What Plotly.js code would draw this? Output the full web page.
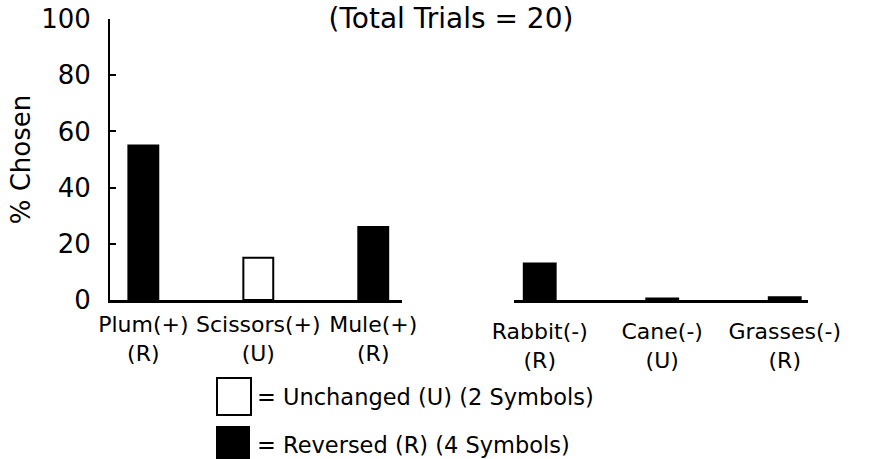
<!DOCTYPE html>
<html>
<head>
<meta charset="utf-8">
<script src="https://cdn.plot.ly/plotly-3.0.1.min.js"></script>
<style>html,body{margin:0;padding:0;background:#fff;}#chart{width:871px;height:459px;}</style>
</head>
<body>
<div id="chart"></div>
<script>
// ---- data ----
const leftCategories = ['Plum(+)', 'Scissors(+)', 'Mule(+)'];
const leftConditions = ['R', 'U', 'R'];
const leftValues = [55, 15, 26];

const rightCategories = ['Rabbit(-)', 'Cane(-)', 'Grasses(-)'];
const rightConditions = ['R', 'U', 'R'];
const rightValues = [13, 0.5, 1];

const conditionColors = { U: '#ffffff', R: '#000000' };
const legendLabels = ['= Unchanged (U) (2 Symbols)', '= Reversed (R) (4 Symbols)'];
const legendConditions = ['U', 'R'];
const yTickValues = [0, 20, 40, 60, 80, 100];
const chartTitle = '(Total Trials = 20)';
const yTitle = '% Chosen';

// ---- layout helpers ----
const W = 871, H = 459;
const M = { l: 110, r: 63, t: 19, b: 159 };
const PW = W - M.l - M.r, PH = H - M.t - M.b;
const px2x = p => (p - M.l) / PW;
const px2y = p => (H - M.b - p) / PH;
const FONT = 'DejaVu Sans, Verdana, sans-serif';

const idx = arr => arr.map((_, i) => i);
const tickText = (cats, conds) => cats.map((c, i) => c + '<br>(' + conds[i] + ')');

const barStyle = conds => ({
  color: conds.map(c => conditionColors[c]),
  line: { color: '#000', width: 2 }
});

const traces = [
  { type: 'bar', x: idx(leftCategories), y: leftValues, xaxis: 'x', yaxis: 'y',
    width: 0.26, marker: barStyle(leftConditions), showlegend: false, hoverinfo: 'y' },
  { type: 'bar', x: idx(rightCategories), y: rightValues, xaxis: 'x2', yaxis: 'y',
    width: 0.26, marker: barStyle(rightConditions), showlegend: false, hoverinfo: 'y' }
];

const xCommon = {
  showline: true, linewidth: 3, linecolor: '#000', showgrid: false, zeroline: false,
  ticks: '', tickfont: { family: FONT, size: 22, color: '#000' }, fixedrange: true
};

const shapes = [];
const annotations = [];
const boxes = [
  { x0: 217, x1: 251, y0: 378, y1: 415 },
  { x0: 217, x1: 249, y0: 427, y1: 462 }
];
const textY = [397, 445];
legendLabels.forEach((lab, i) => {
  const b = boxes[i];
  shapes.push({ type: 'rect', xref: 'paper', yref: 'paper',
    x0: px2x(b.x0), x1: px2x(b.x1), y0: px2y(b.y1), y1: px2y(b.y0),
    fillcolor: conditionColors[legendConditions[i]], line: { color: '#000', width: 2 } });
  annotations.push({ xref: 'paper', yref: 'paper', x: px2x(255), y: px2y(textY[i]),
    xanchor: 'left', yanchor: 'middle', showarrow: false, text: lab,
    font: { family: FONT, size: 22.5, color: '#000' } });
});

const layout = {
  width: W, height: H,
  margin: M,
  paper_bgcolor: '#fff', plot_bgcolor: '#fff',
  showlegend: false,
  bargap: 0,
  title: { text: chartTitle, xref: 'container', yref: 'container', x: 451 / W, y: 1 - 18 / H,
    xanchor: 'center', yanchor: 'middle', font: { family: FONT, size: 28, color: '#000' } },
  xaxis: Object.assign({}, xCommon, {
    domain: [0, px2x(402)], range: [-0.29, 2.25],
    tickmode: 'array', tickvals: idx(leftCategories), ticktext: tickText(leftCategories, leftConditions),
    ticklabelstandoff: 3
  }),
  xaxis2: Object.assign({}, xCommon, {
    domain: [px2x(514), 1], range: [-0.21, 2.19], anchor: 'y',
    tickmode: 'array', tickvals: idx(rightCategories), ticktext: tickText(rightCategories, rightConditions),
    ticklabelstandoff: 10
  }),
  yaxis: {
    range: [0, 100], tickmode: 'array', tickvals: yTickValues,
    showline: true, linewidth: 2, linecolor: '#000', showgrid: false, zeroline: false,
    ticks: 'inside', ticklen: 6, tickwidth: 2, tickcolor: '#000',
    tickfont: { family: FONT, size: 26, color: '#000' }, ticklabelstandoff: 12,
    title: { text: yTitle, font: { family: FONT, size: 26, color: '#000' }, standoff: 3 },
    fixedrange: true
  },
  shapes: shapes,
  annotations: annotations
};

Plotly.newPlot('chart', traces, layout, { displayModeBar: false, staticPlot: true });
</script>
</body>
</html>
